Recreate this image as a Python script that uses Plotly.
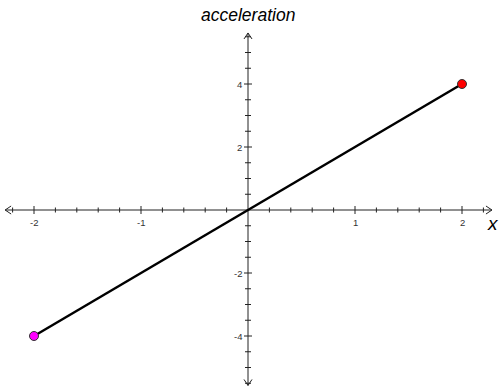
import plotly.graph_objects as go
import numpy as np

# Line segment endpoints
x_vals = [-2, 2]
y_vals = [-4, 4]
end_colors = ["#ff00ff", "#ff0000"]

# Axis tick positions and labels
x_major = [-2, -1, 1, 2]
x_major_labels = ["-2", "-1", "1", "2"]
x_minor = [round(v, 2) for v in np.arange(-2.2, 2.21, 0.2) if abs(v) > 1e-9]
y_major = [4, 2, -2, -4]
y_major_labels = ["4", "2", "-2", "-4"]
y_minor = [v for v in np.arange(-5.5, 5.51, 0.5) if abs(v) > 1e-9]

# Pixel scale of the plotting area
W, H = 501, 389
x0_px, y0_px = 248.0, 210.0
sx, sy = 107.0, 31.5
x_range = [-x0_px / sx, (W - x0_px) / sx]
y_range = [(y0_px - H) / sy, y0_px / sy]

def px_x(n):
    return n / sx

def px_y(n):
    return n / sy

axis_color = "#222222"
x_end_l, x_end_r = -2.27, 2.28
y_end_b, y_end_t = -5.57, 5.62

fig = go.Figure()

# Axis lines
fig.add_trace(go.Scatter(x=[x_end_l, x_end_r, None, 0, 0], y=[0, 0, None, y_end_b, y_end_t],
                         mode="lines", line=dict(color=axis_color, width=1),
                         hoverinfo="skip", showlegend=False))

# Arrow chevrons at the axis ends
ax, ay = [], []
al, aw = 6, 4
for sgn in (-1, 1):
    xe = x_end_l if sgn < 0 else x_end_r
    ax += [xe - sgn * px_x(al), xe, xe - sgn * px_x(al), None]
    ay += [px_y(aw), 0, -px_y(aw), None]
    ye = y_end_b if sgn < 0 else y_end_t
    ax += [-px_x(aw), 0, px_x(aw), None]
    ay += [ye - sgn * px_y(al), ye, ye - sgn * px_y(al), None]
fig.add_trace(go.Scatter(x=ax, y=ay, mode="lines", line=dict(color=axis_color, width=1),
                         hoverinfo="skip", showlegend=False))

# Tick marks
tx, ty = [], []
for v in x_minor:
    h = 4 if any(abs(v - m) < 1e-9 for m in x_major) else 2.5
    tx += [v, v, None]
    ty += [-px_y(h), px_y(h), None]
for v in y_minor:
    h = 4 if any(abs(v - m) < 1e-9 for m in y_major) else 3
    tx += [-px_x(h), px_x(h), None]
    ty += [v, v, None]
fig.add_trace(go.Scatter(x=tx, y=ty, mode="lines", line=dict(color=axis_color, width=1),
                         hoverinfo="skip", showlegend=False))

# The function line
fig.add_trace(go.Scatter(x=x_vals, y=y_vals, mode="lines",
                         line=dict(color="black", width=2.5),
                         hoverinfo="skip", showlegend=False))
fig.add_trace(go.Scatter(x=x_vals, y=y_vals, mode="markers",
                         marker=dict(color=end_colors, size=9,
                                     line=dict(color="#333333", width=1)),
                         hoverinfo="skip", showlegend=False))

font_lbl = dict(family="Liberation Sans, Arial, sans-serif", size=9.5, color="#333333")
for v, t in zip(x_major, x_major_labels):
    fig.add_annotation(x=v, y=0, text=t, showarrow=False, font=font_lbl,
                       xanchor="center", yanchor="middle", yshift=-12)
for v, t in zip(y_major, y_major_labels):
    fig.add_annotation(x=0, y=v, text=t, showarrow=False, font=font_lbl,
                       xanchor="right", yanchor="middle", xshift=-4)

font_title = dict(family="Liberation Sans, Arial, sans-serif", size=17.5, color="black")
fig.add_annotation(x=0, y=px_y(y0_px - 15), text="<i>acceleration</i>", showarrow=False,
                   font=font_title, xanchor="center", yanchor="middle")
fig.add_annotation(x=px_x(501 - x0_px), y=0, text="<i>x</i>", showarrow=False,
                   font=dict(family="Liberation Sans, Arial, sans-serif", size=19, color="black"),
                   xanchor="right", yanchor="middle", yshift=-13)

fig.update_layout(
    width=W, height=H, margin=dict(l=0, r=0, t=0, b=0),
    plot_bgcolor="white", paper_bgcolor="white",
    xaxis=dict(range=x_range, visible=False, fixedrange=True),
    yaxis=dict(range=y_range, visible=False, fixedrange=True),
)

fig.write_html("out.html")
